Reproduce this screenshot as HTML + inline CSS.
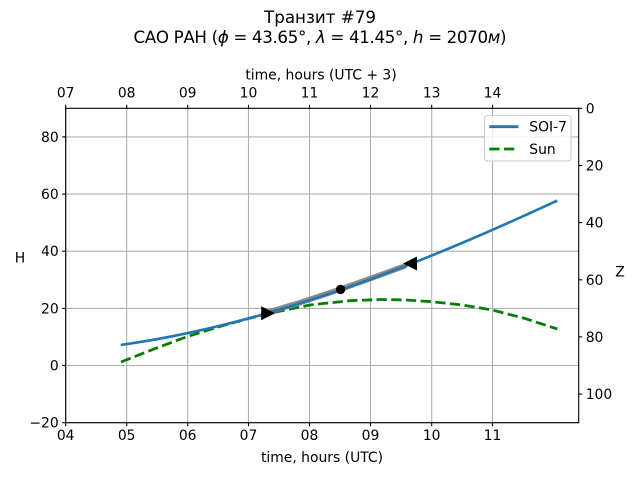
<!DOCTYPE html>
<html>
<head>
<meta charset="utf-8">
<style>
  html, body { margin: 0; padding: 0; background: #ffffff; }
  svg { display: block; }
  text { font-family: "DejaVu Sans", "Liberation Sans", sans-serif; fill: #000; }
</style>
</head>
<body>
<svg width="640" height="480" viewBox="0 0 640 480" xmlns="http://www.w3.org/2000/svg">
  <rect x="0" y="0" width="640" height="480" fill="#ffffff"/>

  <!-- Titles -->
  <text x="320" y="23" font-size="16.7" text-anchor="middle">Транзит #79</text>
  <text x="320" y="43" font-size="16.7" text-anchor="middle" textLength="373" lengthAdjust="spacing">САО РАН (<tspan font-style="italic">ϕ</tspan> = 43.65°, <tspan font-style="italic">λ</tspan> = 41.45°, <tspan font-style="italic">h</tspan> = 2070<tspan font-style="italic">м</tspan>)</text>

  <!-- Top axis label -->
  <text x="321" y="79.5" font-size="13.9" text-anchor="middle">time, hours (UTC + 3)</text>

  <!-- Grid lines -->
  <g stroke="#b0b0b0" stroke-width="1.1">
    <line x1="65.7" y1="108.3" x2="65.7" y2="422.7"/>
    <line x1="126.7" y1="108.3" x2="126.7" y2="422.7"/>
    <line x1="187.7" y1="108.3" x2="187.7" y2="422.7"/>
    <line x1="248.5" y1="108.3" x2="248.5" y2="422.7"/>
    <line x1="309.5" y1="108.3" x2="309.5" y2="422.7"/>
    <line x1="370.5" y1="108.3" x2="370.5" y2="422.7"/>
    <line x1="431.7" y1="108.3" x2="431.7" y2="422.7"/>
    <line x1="492.5" y1="108.3" x2="492.5" y2="422.7"/>
    <line x1="65.7" y1="422.7" x2="578.7" y2="422.7"/>
    <line x1="65.7" y1="365.5" x2="578.7" y2="365.5"/>
    <line x1="65.7" y1="308.4" x2="578.7" y2="308.4"/>
    <line x1="65.7" y1="251.2" x2="578.7" y2="251.2"/>
    <line x1="65.7" y1="194.1" x2="578.7" y2="194.1"/>
    <line x1="65.7" y1="136.9" x2="578.7" y2="136.9"/>
  </g>

  <!-- Sun (green dashed) -->
  <polyline points="121,362 154,349 187,336.7 218,327 248,318.7 273.3,312.5 310,305 350,300.7 380,299.5 405,299.9 431.7,301.7 462,304.9 492.3,310 525,318.5 557.3,329" fill="none" stroke="#008000" stroke-width="2.78" stroke-dasharray="10.3 4.4" stroke-linejoin="round"/>

  <!-- SOI-7 (blue) -->
  <path d="M120.7,345 C266.23,324.54 411.77,268.32 557.3,200.55" fill="none" stroke="#1f77b4" stroke-width="2.6"/>

  <!-- Gray transit segment -->
  <polyline points="267.3,312.4 300,302.6 340,289.4 375,276.9 406,265.6" fill="none" stroke="#808080" stroke-width="5.5" stroke-opacity="0.9"/>
  <!-- blue over gray -->
  <polyline points="267.3,313.2 300,303.38 340,290.18 375,277.64 411,263.88" fill="none" stroke="#1f77b4" stroke-width="2.4"/>

  <!-- Markers -->
  <polygon points="275.2,313.3 261.2,306.3 261.2,320.3" fill="#000"/>
  <polygon points="403,263.5 417,256.5 417,270.5" fill="#000"/>
  <circle cx="340.6" cy="289.4" r="4.7" fill="#000"/>

  <!-- Spines -->
  <rect x="65.7" y="108.3" width="513" height="314.4" fill="none" stroke="#000" stroke-width="1.1"/>

  <!-- Ticks -->
  <g stroke="#000" stroke-width="1.1">
    <line x1="65.7" y1="422.7" x2="65.7" y2="426.2"/>
    <line x1="126.7" y1="422.7" x2="126.7" y2="426.2"/>
    <line x1="187.7" y1="422.7" x2="187.7" y2="426.2"/>
    <line x1="248.5" y1="422.7" x2="248.5" y2="426.2"/>
    <line x1="309.5" y1="422.7" x2="309.5" y2="426.2"/>
    <line x1="370.5" y1="422.7" x2="370.5" y2="426.2"/>
    <line x1="431.7" y1="422.7" x2="431.7" y2="426.2"/>
    <line x1="492.5" y1="422.7" x2="492.5" y2="426.2"/>
    <line x1="65.7" y1="108.3" x2="65.7" y2="104.8"/>
    <line x1="126.7" y1="108.3" x2="126.7" y2="104.8"/>
    <line x1="187.7" y1="108.3" x2="187.7" y2="104.8"/>
    <line x1="248.5" y1="108.3" x2="248.5" y2="104.8"/>
    <line x1="309.5" y1="108.3" x2="309.5" y2="104.8"/>
    <line x1="370.5" y1="108.3" x2="370.5" y2="104.8"/>
    <line x1="431.7" y1="108.3" x2="431.7" y2="104.8"/>
    <line x1="492.5" y1="108.3" x2="492.5" y2="104.8"/>
    <line x1="65.7" y1="422.7" x2="62.2" y2="422.7"/>
    <line x1="65.7" y1="365.5" x2="62.2" y2="365.5"/>
    <line x1="65.7" y1="308.4" x2="62.2" y2="308.4"/>
    <line x1="65.7" y1="251.2" x2="62.2" y2="251.2"/>
    <line x1="65.7" y1="194.1" x2="62.2" y2="194.1"/>
    <line x1="65.7" y1="136.9" x2="62.2" y2="136.9"/>
    <line x1="578.7" y1="108.3" x2="582.2" y2="108.3"/>
    <line x1="578.7" y1="165.5" x2="582.2" y2="165.5"/>
    <line x1="578.7" y1="222.6" x2="582.2" y2="222.6"/>
    <line x1="578.7" y1="279.8" x2="582.2" y2="279.8"/>
    <line x1="578.7" y1="336.9" x2="582.2" y2="336.9"/>
    <line x1="578.7" y1="394.1" x2="582.2" y2="394.1"/>
  </g>

  <!-- Bottom tick labels -->
  <g font-size="13.9" text-anchor="middle">
    <text x="65.7" y="440">04</text>
    <text x="126.7" y="440">05</text>
    <text x="187.7" y="440">06</text>
    <text x="248.5" y="440">07</text>
    <text x="309.5" y="440">08</text>
    <text x="370.5" y="440">09</text>
    <text x="431.7" y="440">10</text>
    <text x="492.5" y="440">11</text>
  </g>
  <text x="322" y="461.8" font-size="13.9" text-anchor="middle">time, hours (UTC)</text>

  <!-- Top tick labels -->
  <g font-size="13.9" text-anchor="middle">
    <text x="65.7" y="97.3">07</text>
    <text x="126.7" y="97.3">08</text>
    <text x="187.7" y="97.3">09</text>
    <text x="248.5" y="97.3">10</text>
    <text x="309.5" y="97.3">11</text>
    <text x="370.5" y="97.3">12</text>
    <text x="431.7" y="97.3">13</text>
    <text x="492.5" y="97.3">14</text>
  </g>

  <!-- Left tick labels -->
  <g font-size="13.9" text-anchor="end">
    <text x="58.7" y="427.7">−20</text>
    <text x="58.7" y="370.5">0</text>
    <text x="58.7" y="313.4">20</text>
    <text x="58.7" y="256.2">40</text>
    <text x="58.7" y="199.1">60</text>
    <text x="58.7" y="141.9">80</text>
  </g>
  <text x="20" y="262.3" font-size="13.9" text-anchor="middle">H</text>

  <!-- Right tick labels -->
  <g font-size="13.9" text-anchor="start">
    <text x="585.7" y="113.3">0</text>
    <text x="585.7" y="170.5">20</text>
    <text x="585.7" y="227.6">40</text>
    <text x="585.7" y="284.8">60</text>
    <text x="585.7" y="341.9">80</text>
    <text x="585.7" y="399.1">100</text>
  </g>
  <text x="620" y="276.5" font-size="13.9" text-anchor="middle">Z</text>

  <!-- Legend -->
  <rect x="484.5" y="115.5" width="86.5" height="45.5" rx="3" ry="3" fill="#ffffff" fill-opacity="0.8" stroke="#cccccc" stroke-width="1.1"/>
  <line x1="489.3" y1="126.7" x2="518.3" y2="126.7" stroke="#1f77b4" stroke-width="2.78"/>
  <text x="529.3" y="131.7" font-size="13.9">SOI-7</text>
  <line x1="489.3" y1="149" x2="518.3" y2="149" stroke="#008000" stroke-width="2.78" stroke-dasharray="10.3 4.4"/>
  <text x="529.3" y="154" font-size="13.9">Sun</text>
</svg>
</body>
</html>
